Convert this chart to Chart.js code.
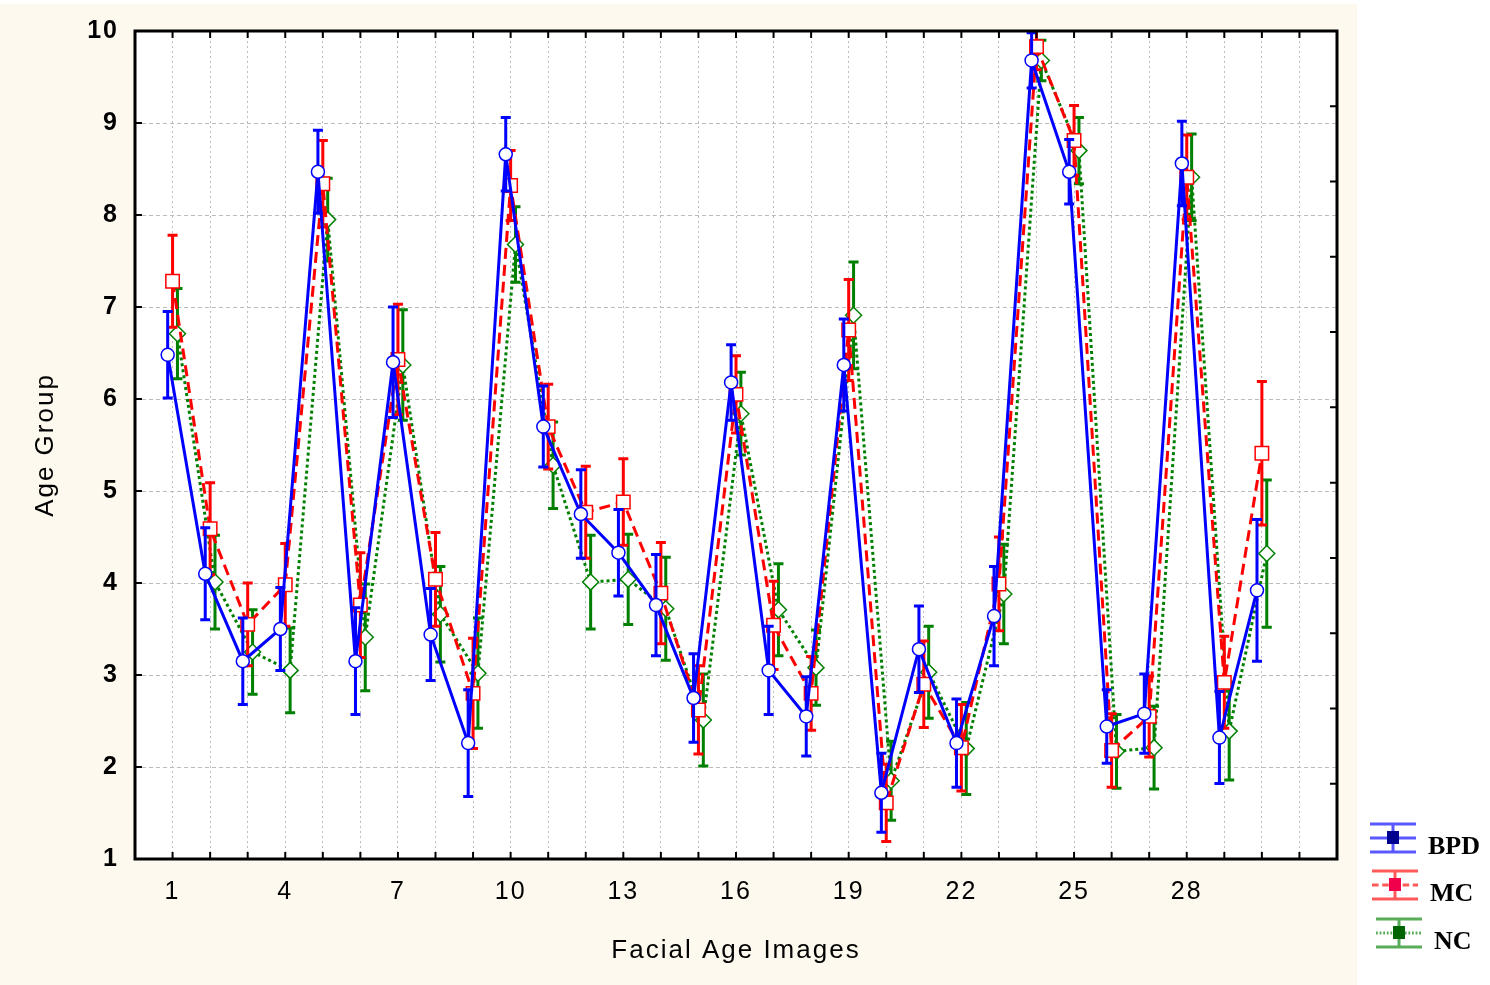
<!DOCTYPE html>
<html>
<head>
<meta charset="utf-8">
<script src="https://cdn.jsdelivr.net/npm/chart.js@4.4.0/dist/chart.umd.min.js"></script>
<style>
  html, body { margin: 0; padding: 0; background: #ffffff; }
  canvas { display: block; }
</style>
</head>
<body>
<canvas id="ageChart" width="1490" height="985"></canvas>
<script>
// Facial age images on the x axis, mean age group rating per group
const images = [1, 2, 3, 4, 5, 6, 7, 8, 9, 10, 11, 12, 13, 14, 15,
                16, 17, 18, 19, 20, 21, 22, 23, 24, 25, 26, 27, 28, 29, 30];
const xTickLabels = [1, 4, 7, 10, 13, 16, 19, 22, 25, 28];
const yTickLabels = [1, 2, 3, 4, 5, 6, 7, 8, 9, 10];
const groupNames = ['BPD', 'MC', 'NC'];

const bpdMeans = [6.48, 4.10, 3.15, 3.50, 8.47, 3.15, 6.40, 3.44, 2.26, 8.66,
                  5.70, 4.75, 4.33, 3.76, 2.75, 6.18, 3.05, 2.55, 6.37, 1.72,
                  3.28, 2.26, 3.64, 9.68, 8.47, 2.44, 2.58, 8.56, 2.32, 3.92];
const bpdErrors = [0.47, 0.50, 0.47, 0.45, 0.45, 0.58, 0.60, 0.50, 0.58, 0.40,
                   0.44, 0.48, 0.47, 0.55, 0.48, 0.41, 0.48, 0.43, 0.50, 0.43,
                   0.47, 0.48, 0.54, 0.30, 0.35, 0.40, 0.43, 0.46, 0.50, 0.77];

const mcMeans = [7.28, 4.59, 3.55, 3.98, 8.34, 3.76, 6.43, 4.04, 2.80, 8.32,
                 5.70, 4.77, 4.88, 3.89, 2.62, 6.05, 3.54, 2.80, 6.75, 1.61,
                 2.90, 2.21, 3.99, 9.83, 8.81, 2.18, 2.55, 8.41, 2.92, 5.41];
const mcErrors = [0.50, 0.50, 0.45, 0.45, 0.47, 0.57, 0.60, 0.51, 0.60, 0.38,
                  0.46, 0.50, 0.47, 0.55, 0.48, 0.42, 0.48, 0.40, 0.55, 0.42,
                  0.47, 0.47, 0.51, 0.25, 0.38, 0.40, 0.44, 0.46, 0.50, 0.78];

const ncMeans = [6.71, 4.01, 3.25, 3.05, 7.95, 3.41, 6.37, 3.66, 3.02, 7.68,
                 5.28, 4.01, 4.04, 3.72, 2.51, 5.84, 3.71, 3.08, 6.91, 1.85,
                 3.03, 2.20, 3.88, 9.68, 8.70, 2.17, 2.21, 8.41, 2.39, 4.32];
const ncErrors = [0.49, 0.51, 0.46, 0.46, 0.45, 0.58, 0.60, 0.52, 0.60, 0.41,
                  0.47, 0.51, 0.49, 0.56, 0.50, 0.45, 0.50, 0.41, 0.58, 0.43,
                  0.50, 0.50, 0.54, 0.22, 0.36, 0.40, 0.45, 0.47, 0.53, 0.80];

const CREAM = '#fdf9ee';

// one line dataset per group, nudged sideways so the bars don't overlap
function makeSet(label, means, errors, shift, color, dash, marker, radius, swatch) {
  return {
    label: label,
    data: images.map((img, i) => ({ x: img + shift, y: means[i] })),
    errors: errors,
    swatch: swatch,
    borderColor: color,
    borderWidth: 3,
    borderDash: dash,
    tension: 0,
    fill: false,
    pointStyle: marker,
    pointRadius: radius,
    pointBorderWidth: 1.5,
    pointBorderColor: color,
    pointBackgroundColor: '#ffffff'
  };
}

// error bars, drawn before each dataset so line + markers end up on top
const errorBars = {
  id: 'errorBars',
  beforeDatasetDraw(chart, args) {
    const ds = chart.data.datasets[args.index];
    const yScale = chart.scales.y;
    const area = chart.chartArea;
    const ctx = chart.ctx;
    ctx.save();
    ctx.beginPath();
    ctx.rect(area.left, area.top, area.right - area.left, area.bottom - area.top);
    ctx.clip();
    ctx.strokeStyle = ds.borderColor;
    ctx.lineWidth = 3;
    ctx.setLineDash([]);
    args.meta.data.forEach((pt, i) => {
      const v = ds.data[i].y;
      const e = ds.errors[i];
      const top = yScale.getPixelForValue(v + e);
      const bot = yScale.getPixelForValue(v - e);
      ctx.beginPath();
      ctx.moveTo(pt.x, top); ctx.lineTo(pt.x, bot);
      ctx.moveTo(pt.x - 5, top); ctx.lineTo(pt.x + 5, top);
      ctx.moveTo(pt.x - 5, bot); ctx.lineTo(pt.x + 5, bot);
      ctx.stroke();
    });
    ctx.restore();
  }
};

// cream page, white plot area
const backdrop = {
  id: 'backdrop',
  beforeDraw(chart) {
    const ctx = chart.ctx;
    const a = chart.chartArea;
    ctx.save();
    ctx.fillStyle = '#ffffff';
    ctx.fillRect(0, 0, chart.width, chart.height);
    ctx.fillStyle = CREAM;
    ctx.fillRect(0, 4, 1357, chart.height - 4);
    ctx.fillStyle = '#ffffff';
    ctx.fillRect(a.left, a.top, a.right - a.left, a.bottom - a.top);
    ctx.restore();
    ctx.letterSpacing = '2px';
  }
};

// black frame with inward tick marks on all four sides
const frame = {
  id: 'frame',
  afterDraw(chart) {
    const ctx = chart.ctx;
    const a = chart.chartArea;
    const xs = chart.scales.x;
    const ys = chart.scales.y;
    const len = 7;
    ctx.save();
    ctx.strokeStyle = '#000000';
    ctx.lineWidth = 2;
    ctx.setLineDash([]);
    ctx.beginPath();
    xs.ticks.forEach(t => {
      const px = xs.getPixelForValue(t.value);
      ctx.moveTo(px, a.bottom); ctx.lineTo(px, a.bottom - len);
      ctx.moveTo(px, a.top); ctx.lineTo(px, a.top + len);
    });
    ys.ticks.forEach(t => {
      const py = ys.getPixelForValue(t.value);
      ctx.moveTo(a.left, py); ctx.lineTo(a.left + len, py);
    });
    // right side ticks split the 1..10 range into 11 steps
    for (let k = 1; k < 11; k++) {
      const py = ys.getPixelForValue(10 - k * 9 / 11);
      ctx.moveTo(a.right, py); ctx.lineTo(a.right - len, py);
    }
    ctx.stroke();
    ctx.lineWidth = 3;
    ctx.strokeRect(a.left, a.top, a.right - a.left, a.bottom - a.top);
    ctx.restore();
  }
};

// legend at bottom right: error bar icon + bold serif name
const sideLegend = {
  id: 'sideLegend',
  afterDraw(chart) {
    const ctx = chart.ctx;
    const rows = [
      { x: 1370, y: 838, tx: 1428 },
      { x: 1372, y: 885, tx: 1430 },
      { x: 1376, y: 933, tx: 1434 }
    ];
    ctx.save();
    ctx.letterSpacing = '0px';
    chart.data.datasets.forEach((ds, i) => {
      const r = rows[i];
      const w = 46;
      const cx = r.x + w / 2;
      ctx.globalAlpha = 0.65;
      ctx.strokeStyle = ds.borderColor;
      ctx.lineWidth = 3;
      ctx.setLineDash([]);
      ctx.beginPath();
      ctx.moveTo(r.x, r.y - 14); ctx.lineTo(r.x + w, r.y - 14);
      ctx.moveTo(r.x, r.y + 14); ctx.lineTo(r.x + w, r.y + 14);
      ctx.moveTo(cx, r.y - 14); ctx.lineTo(cx, r.y + 14);
      ctx.stroke();
      ctx.setLineDash(ds.borderDash.length ? ds.borderDash.map(d => d * 0.6) : []);
      ctx.beginPath();
      ctx.moveTo(r.x, r.y); ctx.lineTo(r.x + w, r.y);
      ctx.stroke();
      ctx.globalAlpha = 1;
      ctx.fillStyle = ds.swatch;
      ctx.fillRect(cx - 6, r.y - 7, 12, 13);
      ctx.fillStyle = '#000000';
      ctx.font = 'bold 26px "Liberation Serif", "Times New Roman", serif';
      ctx.textBaseline = 'middle';
      ctx.textAlign = 'left';
      ctx.fillText(ds.label, r.tx, r.y + 9);
    });
    ctx.restore();
  }
};

const ctx = document.getElementById('ageChart').getContext('2d');
const ageChart = new Chart(ctx, {
  type: 'line',
  data: {
    datasets: [
      makeSet(groupNames[0], bpdMeans, bpdErrors, -0.13, '#0000ff', [], 'circle', 6.5, '#000090'),
      makeSet(groupNames[1], mcMeans, mcErrors, 0, '#ff0000', [11, 6], 'rect', 9.5, '#f0004a'),
      makeSet(groupNames[2], ncMeans, ncErrors, 0.13, '#008000', [3, 3], 'rectRot', 8, '#006400')
    ]
  },
  options: {
    responsive: false,
    animation: false,
    layout: { padding: { top: 22, right: 153, left: 0, bottom: 0 } },
    plugins: {
      legend: { display: false },
      tooltip: { enabled: false }
    },
    scales: {
      x: {
        type: 'linear',
        min: 0,
        max: 32,
        afterFit(scale) { scale.height = 126; },
        grid: { color: '#bdbdbd', lineWidth: 1, drawTicks: false },
        border: { display: false, dash: [2, 3] },
        ticks: {
          stepSize: 1,
          autoSkip: false,
          maxRotation: 0,
          padding: 18,
          color: '#000000',
          font: { family: '"Liberation Sans", Arial, sans-serif', size: 25 },
          callback: v => (xTickLabels.includes(v) ? String(v) : '')
        },
        title: {
          display: true,
          text: 'Facial Age Images',
          color: '#000000',
          font: { family: '"Liberation Sans", Arial, sans-serif', size: 26 },
          padding: { top: 0, bottom: 19 }
        }
      },
      y: {
        min: 1,
        max: 10,
        afterFit(scale) { scale.width = 135; },
        grid: { color: '#bdbdbd', lineWidth: 1, drawTicks: false },
        border: { display: false, dash: [4, 3] },
        ticks: {
          stepSize: 1,
          padding: 16,
          color: '#000000',
          font: { family: '"Liberation Sans", Arial, sans-serif', size: 25, weight: 'bold' },
          callback: v => (yTickLabels.includes(v) ? String(v) : '')
        },
        title: {
          display: true,
          text: 'Age Group',
          color: '#000000',
          font: { family: '"Liberation Sans", Arial, sans-serif', size: 26 },
          padding: { top: 30, bottom: 0 }
        }
      }
    }
  },
  plugins: [backdrop, errorBars, frame, sideLegend]
});
</script>
</body>
</html>
